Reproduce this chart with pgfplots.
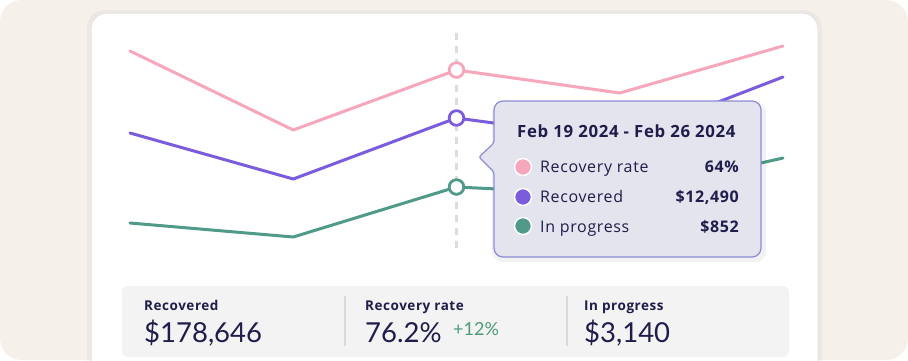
\documentclass[border=0pt]{standalone}
\usepackage{fontspec}
\setmainfont{Open Sans}
\newfontfamily\latof{Lato}
\newfontfamily\tipf{Open Sans}[LetterSpace=4]
\usepackage{pgfplots}
\pgfplotsset{compat=1.18}
\definecolor{bg}{HTML}{F6F0EA}
\definecolor{pinkc}{HTML}{F6A7BC}
\definecolor{purplec}{HTML}{7A5CDD}
\definecolor{greenc}{HTML}{4F9A88}
\definecolor{navy}{HTML}{1E1D4B}
\definecolor{tipfill}{HTML}{E3E4EE}
\definecolor{tipdraw}{HTML}{8C8CD8}
\definecolor{panel}{HTML}{F3F3F4}
\definecolor{sep}{HTML}{D9D9DC}
\definecolor{cardline}{HTML}{E3E3E6}
\definecolor{dashc}{HTML}{DCDCDC}
\definecolor{plusg}{HTML}{4E9A78}
\begin{document}
\begin{tikzpicture}[x=1pt,y=1pt]
\useasboundingbox (0,0) rectangle (908,360);
\fill[white] (0,0) rectangle (908,360);
\begin{scope}
\clip (0,0) rectangle (908,360);
\fill[bg, rounded corners=22pt] (0,0) rectangle (908,360);
\fill[black, opacity=0.03, rounded corners=18pt] (87,-30) rectangle (822,350);
\filldraw[fill=white, draw=cardline, line width=1pt, rounded corners=16pt] (91,-30) rectangle (818,347);
\end{scope}
\begin{axis}[at={(130pt,0pt)}, anchor=south west, scale only axis,
  width=653pt, height=360pt, xmin=0, xmax=4, ymin=0, ymax=360,
  axis lines=none, clip=false]
\draw[dashc, line width=3pt, dash pattern=on 7pt off 6pt] (axis cs:2,112) -- (axis cs:2,330);
\addplot[pinkc, line width=3pt, line join=round, line cap=round, mark=none] coordinates {(0,309) (1,230) (2,290) (3,267) (4,314)};
\addplot[purplec, line width=3pt, line join=round, line cap=round, mark=none] coordinates {(0,227) (1,181) (2,242) (3,220) (4,283)};
\addplot[greenc, line width=3pt, line join=round, line cap=round, mark=none] coordinates {(0,137) (1,123) (2,173) (3,165) (4,202)};
\addplot[only marks, mark=*, mark size=7.3pt, mark options={fill=white, draw=pinkc, line width=2.8pt}] coordinates {(2,290)};
\addplot[only marks, mark=*, mark size=7.3pt, mark options={fill=white, draw=purplec, line width=2.8pt}] coordinates {(2,242)};
\addplot[only marks, mark=*, mark size=7.3pt, mark options={fill=white, draw=greenc, line width=2.8pt}] coordinates {(2,173)};
\end{axis}
% tooltip shadow
\fill[black, opacity=0.05, rounded corners=10pt] (492,98) rectangle (766,258);
% tooltip
\filldraw[fill=tipfill, draw=tipdraw, line width=1.2pt, rounded corners=9pt]
  (600,259) -- (761,259) -- (761,103) -- (494,103) [rounded corners=2pt] -- (494,188) -- (479,203) -- (494,217) [rounded corners=9pt] -- (494,259) -- cycle;
\node[anchor=base west, inner sep=0, text=navy, font=\tipf\bfseries\fontsize{16.8}{18}\selectfont] at (517,223) {Feb 19 2024 - Feb 26 2024};
\begin{scope}[font=\tipf\fontsize{16}{18}\selectfont]
\filldraw[fill=pinkc, draw=white, line width=1.5pt] (523,193) circle (8.5pt);
\filldraw[fill=purplec, draw=white, line width=1.5pt] (523,163) circle (8.5pt);
\filldraw[fill=greenc, draw=white, line width=1.5pt] (523,134) circle (8.5pt);
\node[anchor=base west, inner sep=0, text=navy] at (540,188) {Recovery rate};
\node[anchor=base west, inner sep=0, text=navy] at (540,158) {Recovered};
\node[anchor=base west, inner sep=0, text=navy] at (540,128) {In progress};
\node[anchor=base east, inner sep=0, text=navy, font=\tipf\bfseries\fontsize{16}{18}\selectfont] at (739,188) {64\%};
\node[anchor=base east, inner sep=0, text=navy, font=\tipf\bfseries\fontsize{16}{18}\selectfont] at (739,158) {\$12,490};
\node[anchor=base east, inner sep=0, text=navy, font=\tipf\bfseries\fontsize{16}{18}\selectfont] at (739,128) {\$852};
\end{scope}
% stats panel
\fill[panel, rounded corners=6pt] (122,3) rectangle (789,74);
\draw[sep, line width=1.2pt] (345,14) -- (345,64);
\draw[sep, line width=1.2pt] (567,14) -- (567,64);
\begin{scope}[font=\tipf\bfseries\fontsize{13.5}{16}\selectfont, text=navy]
\node[anchor=base west, inner sep=0] at (144,50) {Recovered};
\node[anchor=base west, inner sep=0] at (365,50) {Recovery rate};
\node[anchor=base west, inner sep=0] at (584,50) {In progress};
\end{scope}
\begin{scope}[font=\latof\fontsize{27.5}{32}\selectfont, text=navy]
\node[anchor=base west, inner sep=0] at (144,18) {\$178,646};
\node[anchor=base west, inner sep=0] at (365,18) {76.2\%};
\node[anchor=base west, inner sep=0] at (584,18) {\$3,140};
\end{scope}
\node[anchor=base west, inner sep=0, text=plusg, font=\latof\fontsize{18}{20}\selectfont] at (453,25) {+12\%};
\end{tikzpicture}
\end{document}
